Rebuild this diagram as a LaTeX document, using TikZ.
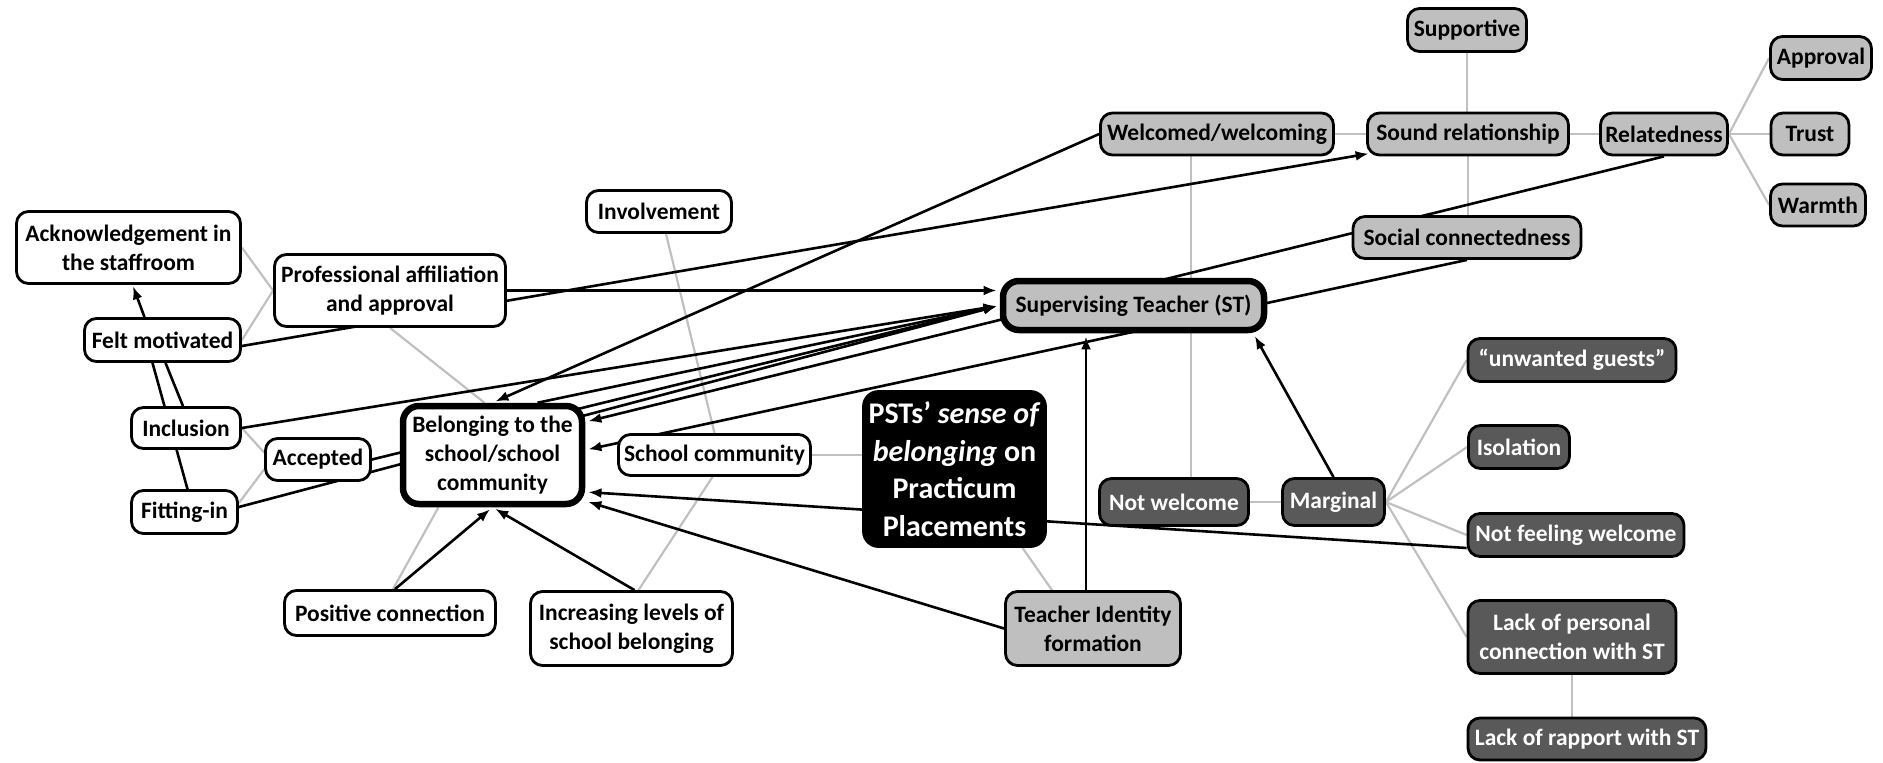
\documentclass[tikz,border=0pt]{standalone}
\usepackage{fontspec}
\setmainfont{Carlito}
\usetikzlibrary{arrows.meta}
\pgfdeclarelayer{bg}
\pgfsetlayers{bg,main}
\definecolor{boxgray}{RGB}{191,191,191}
\definecolor{darkbox}{RGB}{89,89,89}
\definecolor{linegray}{RGB}{192,192,192}
\tikzset{
  box/.style={rounded corners=12pt, draw=black, line width=2.8pt, align=center, inner sep=2pt,
    font=\fontsize{23.5}{29}\selectfont\bfseries, text=black},
  wbox/.style={box, fill=white},
  gbox/.style={box, fill=boxgray},
  dbox/.style={box, fill=darkbox, text=white},
  heavy/.style={line width=6.5pt, rounded corners=16pt},
  conn/.style={line width=2.6pt, black},
  arr/.style={conn, -{Latex[length=13pt,width=10pt]}, shorten >=1.5pt},
  arrh/.style={arr, shorten >=3.2pt},
  glink/.style={line width=2.2pt, linegray}
}
\begin{document}
\begin{tikzpicture}[x=1pt,y=-1pt]
\useasboundingbox (0,0) rectangle (1883,763);

% grey (relationship) boxes
\node[gbox, minimum width=119pt, minimum height=43pt] (sup) at (1467,30) {Supportive};
\node[gbox, minimum width=101pt, minimum height=43pt] (appr) at (1821,58) {Approval};
\node[gbox, minimum width=78pt, minimum height=42pt] (trust) at (1810,134) {Trust};
\node[gbox, minimum width=95pt, minimum height=42pt] (warmth) at (1818,205) {Warmth};
\node[gbox, minimum width=233pt, minimum height=42pt] (wel) at (1217,134) {Welcomed/welcoming};
\node[gbox, minimum width=201pt, minimum height=42pt] (sr) at (1468,134) {Sound relationship};
\node[gbox, minimum width=127pt, minimum height=42pt] (rel) at (1664,134) {Relatedness};
\node[gbox, minimum width=228pt, minimum height=42pt] (soc) at (1467,237.5) {Social connectedness};
\node[gbox, heavy, minimum width=261pt, minimum height=49pt] (st) at (1133.5,305.5) {Supervising Teacher (ST)};
\node[gbox, minimum width=175pt, minimum height=74pt] (tid) at (1093,628.5) {Teacher Identity\\formation};

% white boxes
\node[wbox, minimum width=145pt, minimum height=42pt] (inv) at (659,211.5) {Involvement};
\node[wbox, minimum width=224pt, minimum height=72pt] (ack) at (128.5,247.5) {Acknowledgement in\\the staffroom};
\node[wbox, minimum width=231pt, minimum height=72pt] (pa) at (390,290.5) {Professional affiliation\\and approval};
\node[wbox, minimum width=156pt, minimum height=43pt] (fm) at (162.5,340) {Felt motivated};
\node[wbox, minimum width=109pt, minimum height=41pt] (inc) at (186,428) {Inclusion};
\node[wbox, minimum width=105pt, minimum height=42pt] (acc) at (318,459.5) {Accepted};
\node[wbox, minimum width=106pt, minimum height=43pt] (fit) at (184.5,512) {Fitting-in};
\node[wbox, heavy, minimum width=179pt, minimum height=98pt] (bel) at (492.5,455) {Belonging to the\\school/school\\community};
\node[wbox, minimum width=192pt, minimum height=41pt] (sc) at (714.5,455) {School community};
\node[wbox, minimum width=211pt, minimum height=45pt] (pos) at (390,613) {Positive connection};
\node[wbox, minimum width=202pt, minimum height=74pt] (incr) at (631.5,628.5) {Increasing levels of\\school belonging};

% central box
\node[box, fill=black, text=white, rounded corners=15pt, minimum width=182pt, minimum height=155pt,
  font=\fontsize{30}{37.5}\selectfont\bfseries] (psts) at (954.5,469)
  {PSTs’ \textit{sense of}\\\textit{belonging} on\\Practicum\\Placements};

% dark boxes
\node[dbox, minimum width=149pt, minimum height=47pt] (nw) at (1174,502) {Not welcome};
\node[dbox, minimum width=102pt, minimum height=47pt] (mar) at (1333.5,502) {Marginal};
\node[dbox, minimum width=208pt, minimum height=43pt] (unw) at (1572,360) {“unwanted guests”};
\node[dbox, minimum width=101pt, minimum height=43pt] (iso) at (1519,447) {Isolation};
\node[dbox, minimum width=216pt, minimum height=43pt] (nfw) at (1576,535) {Not feeling welcome};
\node[dbox, minimum width=208pt, minimum height=73pt] (lpc) at (1572,637) {Lack of personal\\connection with ST};
\node[dbox, minimum width=238pt, minimum height=42pt] (lrs) at (1587,739) {Lack of rapport with ST};

\begin{pgfonlayer}{bg}
% grey links
\draw[glink] (sup.south) -- (sup.south |- sr.north);
\draw[glink] (sr.south) -- (sr.south |- soc.north);
\draw[glink] (wel.east) -- (sr.west);
\draw[glink] (sr.east) -- (rel.west);
\draw[glink] (rel.east) -- (appr.west);
\draw[glink] (rel.east) -- (trust.west);
\draw[glink] (rel.east) -- (warmth.west);
\draw[glink] ([xshift=-26pt]wel.south) -- ([xshift=-26pt]wel.south |- nw.north);
\draw[glink] (nw.east) -- (mar.west);
\draw[glink] (mar.east) -- (unw.west);
\draw[glink] (mar.east) -- (iso.west);
\draw[glink] (mar.east) -- (nfw.west);
\draw[glink] (mar.east) -- (lpc.west);
\draw[glink] (lpc.south) -- (lpc.south |- lrs.north);
\draw[glink] (sc.east) -- (sc.east -| psts.west);
\draw[glink] ([xshift=68pt]psts.south) -- ([xshift=-41pt]tid.north);
\draw[glink] ([xshift=7pt]inv.south) -- (sc.north);
\draw[glink] ([xshift=-2pt]sc.south) -- ([xshift=7pt]incr.north);
\draw[glink] (pa.south) -- ([xshift=-8pt]bel.north);
\draw[glink] (ack.east) -- (pa.west);
\draw[glink] (fm.east) -- (pa.west);
\draw[glink] (inc.east) -- ([yshift=7pt]acc.west);
\draw[glink] ([yshift=9pt]fit.east) -- ([yshift=-10pt]acc.west);
\draw[glink] ([xshift=-54pt]bel.south) -- ([xshift=3pt]pos.north);

% black connectors
\draw[arr] ([xshift=-18pt]fm.north) -- ([xshift=4pt]ack.south);
\draw[conn] ([xshift=-10pt]fm.south) -- ([xshift=3pt]fit.north);
\draw[conn] ([xshift=3pt]fm.south) -- ([xshift=-3pt]inc.north);
\draw[arr] ([yshift=-6pt]fm.east) -- ([xshift=4pt,yshift=3pt]sr.south west);
\draw[arrh] (pa.east) -- (pa.east -| st.west);
\draw[arrh] (inc.east) -- (st.west);
\draw[arrh] (acc.east) -- (st.west);
\draw[arrh] ([yshift=5pt]fit.east) -- (st.west);
\draw[arrh] ([xshift=45pt]bel.north) -- (st.west);
\draw[arrh] (rel.south) -- ([yshift=33pt]bel.east);
\draw[arrh] (wel.west) -- (bel.north);
\draw[arrh] (soc.south) -- ([yshift=5pt]bel.east);
\draw[arrh] ([yshift=-13pt]nfw.west) -- ([yshift=-37pt]bel.east);
\draw[arrh] (tid.west) -- ([yshift=-46pt]bel.east);
\draw[arrh] ([xshift=-7pt]tid.north) -- ([xshift=-7pt]tid.north |- st.south);
\draw[arrh] (mar.north) -- ([xshift=-14pt]st.south east);
\draw[arrh] ([xshift=5pt]pos.north) -- (bel.south);
\draw[arrh] ([xshift=3pt]incr.north) -- (bel.south);
\end{pgfonlayer}
\end{tikzpicture}
\end{document}
